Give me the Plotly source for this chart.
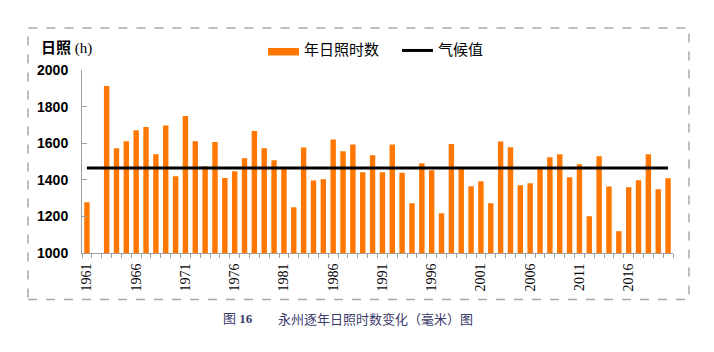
import plotly.graph_objects as go

years = list(range(1961, 2021))
sunshine = [1277, None, 1912, 1573, 1611, 1671, 1688, 1540, 1697, 1420,
            1748, 1611, 1474, 1607, 1410, 1447, 1518, 1666, 1573, 1507,
            1462, 1250, 1576, 1396, 1403, 1620, 1556, 1593, 1441, 1534,
            1441, 1593, 1439, 1272, 1491, 1452, 1217, 1595, 1462, 1365,
            1392, 1272, 1609, 1578, 1370, 1381, 1465, 1523, 1540, 1414,
            1485, 1201, 1529, 1363, 1119, 1359, 1398, 1540, 1348, 1409]
climate_normal = 1465
tick_years = [1961, 1966, 1971, 1976, 1981, 1986, 1991, 1996, 2001, 2006, 2011, 2016]

W, H = 714, 352
L, R, T, B = 82, 673, 70, 252.7

def px(x):
    return (x - L) / (R - L)

def py(y):
    return (B - y) / (B - T)

fig = go.Figure()
fig.add_trace(go.Bar(x=years, y=sunshine, marker_color="#FF7700",
                     marker_line_width=0, name="年日照时数", showlegend=False))
fig.add_trace(go.Scatter(x=years, y=[climate_normal] * len(years), mode="lines",
                         line=dict(color="black", width=3), name="气候值",
                         showlegend=False))

shapes = [
    # dashed frame
    dict(type="rect", xref="paper", yref="paper", x0=px(28), x1=px(689),
         y0=py(299), y1=py(28), line=dict(color="#A8A8A8", width=1.5, dash="dash"),
         layer="below"),
    # legend swatches
    dict(type="rect", xref="paper", yref="paper", x0=px(268), x1=px(299),
         y0=py(55.5), y1=py(48), fillcolor="#FF7700", line_width=0),
    dict(type="line", xref="paper", yref="paper", x0=px(402), x1=px(433),
         y0=py(50.5), y1=py(50.5), line=dict(color="black", width=3)),
]

cjk = "Noto Sans CJK SC"
annotations = [
    dict(text="<b>日照</b> (h)", x=px(39), y=py(49), xref="paper", yref="paper",
         xanchor="left", yanchor="middle", showarrow=False,
         font=dict(family="Liberation Serif, " + cjk, size=15, color="black")),
    dict(text="年日照时数", x=px(302), y=py(49), xref="paper", yref="paper",
         xanchor="left", yanchor="middle", showarrow=False,
         font=dict(family=cjk, size=15, color="black")),
    dict(text="气候值", x=px(436), y=py(49), xref="paper", yref="paper",
         xanchor="left", yanchor="middle", showarrow=False,
         font=dict(family=cjk, size=15, color="black")),
    dict(text="图 <b>16</b>", x=px(221), y=py(318), xref="paper", yref="paper",
         xanchor="left", yanchor="middle", showarrow=False,
         font=dict(family="Liberation Serif, " + cjk, size=13, color="#3A3A6A")),
    dict(text="永州逐年日照时数变化（毫米）图", x=px(276), y=py(318), xref="paper", yref="paper",
         xanchor="left", yanchor="middle", showarrow=False,
         font=dict(family=cjk, size=13, color="#3A3A6A")),
]

fig.update_layout(
    width=W, height=H,
    margin=dict(l=L, r=W - R, t=T, b=H - B),
    paper_bgcolor="white", plot_bgcolor="white",
    bargap=0.45,
    showlegend=False,
    shapes=shapes,
    annotations=annotations,
    xaxis=dict(range=[1960.5, 2020.5], tickmode="array", tickvals=tick_years,
               ticktext=[str(y) for y in tick_years], tickangle=-90,
               tickfont=dict(family="Liberation Serif", size=14, color="black"),
               ticks="", ticklabelstandoff=4, showgrid=False, zeroline=False,
               showline=True, linecolor="#A0A0A0", linewidth=1,
               minor=dict(tickmode="linear", tick0=1960.5, dtick=1, ticks="outside",
                          ticklen=4, tickcolor="#A0A0A0", showgrid=False)),
    yaxis=dict(range=[1000, 2000], tickmode="linear", tick0=1000, dtick=200,
               tickfont=dict(family="Liberation Sans", size=14, color="black", weight="bold"),
               ticks="inside", ticklen=5, tickcolor="#A0A0A0",
               ticklabelstandoff=10,
               showgrid=False, zeroline=False,
               showline=True, linecolor="#A0A0A0", linewidth=1),
)

fig.write_html("out.html")
